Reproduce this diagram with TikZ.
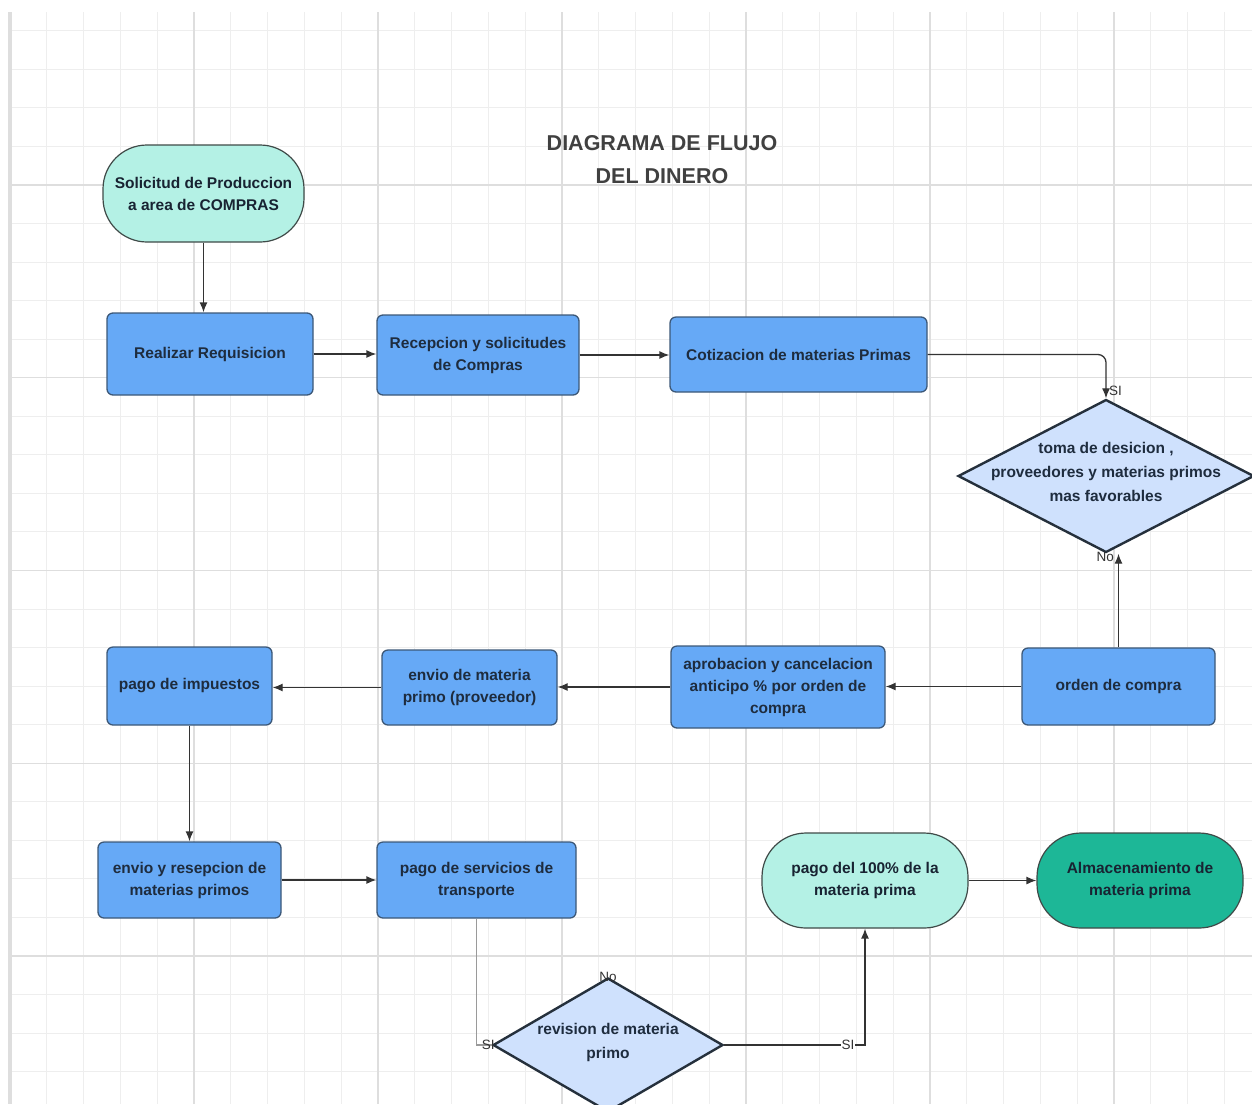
\documentclass[tikz,border=0pt]{standalone}
\usepackage{fontspec}
\setmainfont{Liberation Sans}
\usetikzlibrary{shapes.geometric,arrows.meta}
\definecolor{boxblue}{HTML}{66A9F6}
\definecolor{boxedge}{HTML}{3C5878}
\definecolor{boxtext}{HTML}{1E2C3E}
\definecolor{termfill}{HTML}{B4F1E5}
\definecolor{termedge}{HTML}{3F4A48}
\definecolor{tealfill}{HTML}{1DB797}
\definecolor{decfill}{HTML}{CFE1FD}
\definecolor{decedge}{HTML}{25303C}
\definecolor{linecol}{HTML}{333333}
\definecolor{faintline}{HTML}{9A9A9A}
\definecolor{gridminor}{HTML}{EEEEEE}
\definecolor{gridmajor}{HTML}{DEDEDE}
\newcommand\bxfont{\fontsize{15.5}{22}\selectfont\bfseries}
\newcommand\dcfont{\fontsize{15.5}{24}\selectfont\bfseries}
\newcommand\dtext[1]{\smash{\makebox[0pt]{\begin{tabular}{@{}c@{}}#1\end{tabular}}}}
\begin{document}
\begin{tikzpicture}[x=1pt,y=-1pt,
  proc/.style={draw=boxedge, line width=1.3pt, fill=boxblue, rounded corners=6pt,
    align=center, font=\bxfont, text=boxtext, inner sep=2pt},
  term/.style={draw=termedge, line width=1.2pt, fill=termfill, rounded corners=44pt,
    align=center, font=\bxfont, text=boxtext!80!black, inner sep=2pt},
  dec/.style={diamond, draw=decedge, line width=2.4pt, fill=decfill, inner sep=0pt,
    font=\dcfont, text=boxtext},
  conn/.style={draw=linecol, line width=1.3pt, -{Latex[length=10pt,width=8pt]}},
  lbl/.style={font=\fontsize{13.5}{15}\selectfont, text=linecol, inner sep=1pt}]
\useasboundingbox (0,0) rectangle (1252,1104);
\fill[white] (0,0) rectangle (1252,1104);
% grid
\foreach \i in {0,...,33} \draw[gridminor, line width=1pt] ({10+36.8*\i},12) -- ({10+36.8*\i},1104);
\foreach \j in {0,...,27} \draw[gridminor, line width=1pt] (10,{30.8+38.55*\j}) -- (1252,{30.8+38.55*\j});
\foreach \i in {0,...,6} \draw[gridmajor, line width=1.1pt] ({10+184*\i},12) -- ({10+184*\i},1104);
\foreach \j in {0,...,4} \draw[gridmajor, line width=1.1pt] (10,{185+192.75*\j}) -- (1252,{185+192.75*\j});
\fill[gridmajor] (8,12) rectangle (12,1104);

% title
\node[align=center, font=\fontsize{21.5}{33}\selectfont\bfseries, text=black!75] (title) at (662,160)
  {DIAGRAMA DE FLUJO\\DEL DINERO};

% nodes
\node[term, minimum width=201pt, minimum height=97pt] (start) at (203.5,193.5)
  {Solicitud de Produccion\\a area de COMPRAS};
\node[proc, minimum width=206pt, minimum height=82pt] (req) at (210,354) {Realizar Requisicion};
\node[proc, minimum width=202pt, minimum height=80pt] (rec) at (478,355) {Recepcion y solicitudes\\de Compras};
\node[proc, minimum width=257pt, minimum height=75pt] (cot) at (798.5,354.5) {Cotizacion de materias Primas};
\node[dec, minimum width=296pt, minimum height=153pt] (dec1) at (1106,476)
  {\dtext{toma de desicion ,\\proveedores y materias primos\\mas favorables}};
\node[proc, minimum width=193pt, minimum height=77pt] (orden) at (1118.5,686.5) {orden de compra};
\node[proc, minimum width=214pt, minimum height=82pt] (apro) at (778,687)
  {aprobacion y cancelacion\\anticipo \% por orden de\\compra};
\node[proc, minimum width=175pt, minimum height=75pt] (env) at (469.5,687.5) {envio de materia\\primo (proveedor)};
\node[proc, minimum width=165pt, minimum height=78pt] (imp) at (189.5,686) {pago de impuestos};
\node[proc, minimum width=183pt, minimum height=76pt] (envrec) at (189.5,880) {envio y resepcion de\\materias primos};
\node[proc, minimum width=199pt, minimum height=76pt] (serv) at (476.5,880) {pago de servicios de\\transporte};
\node[dec, minimum width=230pt, minimum height=134pt] (rev) at (608,1045)
  {\dtext{revision de materia\\primo}};
\node[term, minimum width=206pt, minimum height=95pt] (pcien) at (865,880.5) {pago del 100\% de la\\materia prima};
\node[term, fill=tealfill, minimum width=206pt, minimum height=95pt] (alm) at (1140,880.5)
  {Almacenamiento de\\materia prima};

% connectors
\draw[conn] (start.south) -- (start.south |- req.north);
\draw[conn] (req.east) -- (req.east -| rec.west);
\draw[conn] (rec.east) -- (rec.east -| cot.west);
\draw[conn, rounded corners=8pt] (cot.east) -| (dec1.north);
\node[lbl, anchor=south west] (lsi1) at ([xshift=2pt,yshift=1pt]dec1.north) {SI};
\draw[conn] (orden.north) -- (orden.north |- dec1.south);
\node[lbl, anchor=north east] (lno1) at ([xshift=9pt,yshift=3pt]dec1.south) {No};
\draw[conn] (orden.west) -- (orden.west -| apro.east);
\draw[conn] (apro.west) -- (apro.west -| env.east);
\draw[conn] (env.west) -- (env.west -| imp.east);
\draw[conn] (imp.south) -- (imp.south |- envrec.north);
\draw[conn] (envrec.east) -- (envrec.east -| serv.west);
\draw[draw=faintline, line width=1.1pt] (serv.south) |- (rev.west);
\node[lbl, anchor=east] (lsi2) at ([xshift=4pt]rev.west) {SI};
\node[lbl, anchor=south] (lno2) at ([yshift=-6pt]rev.north) {No};
\draw[conn] (rev.east) -| (pcien.south);
\node[lbl, fill=white, inner sep=0.5pt] (lsi3) at ([xshift=-17pt]rev.east -| pcien.south) {SI};
\draw[conn] (pcien.east) -- (pcien.east -| alm.west);
\end{tikzpicture}
\end{document}
